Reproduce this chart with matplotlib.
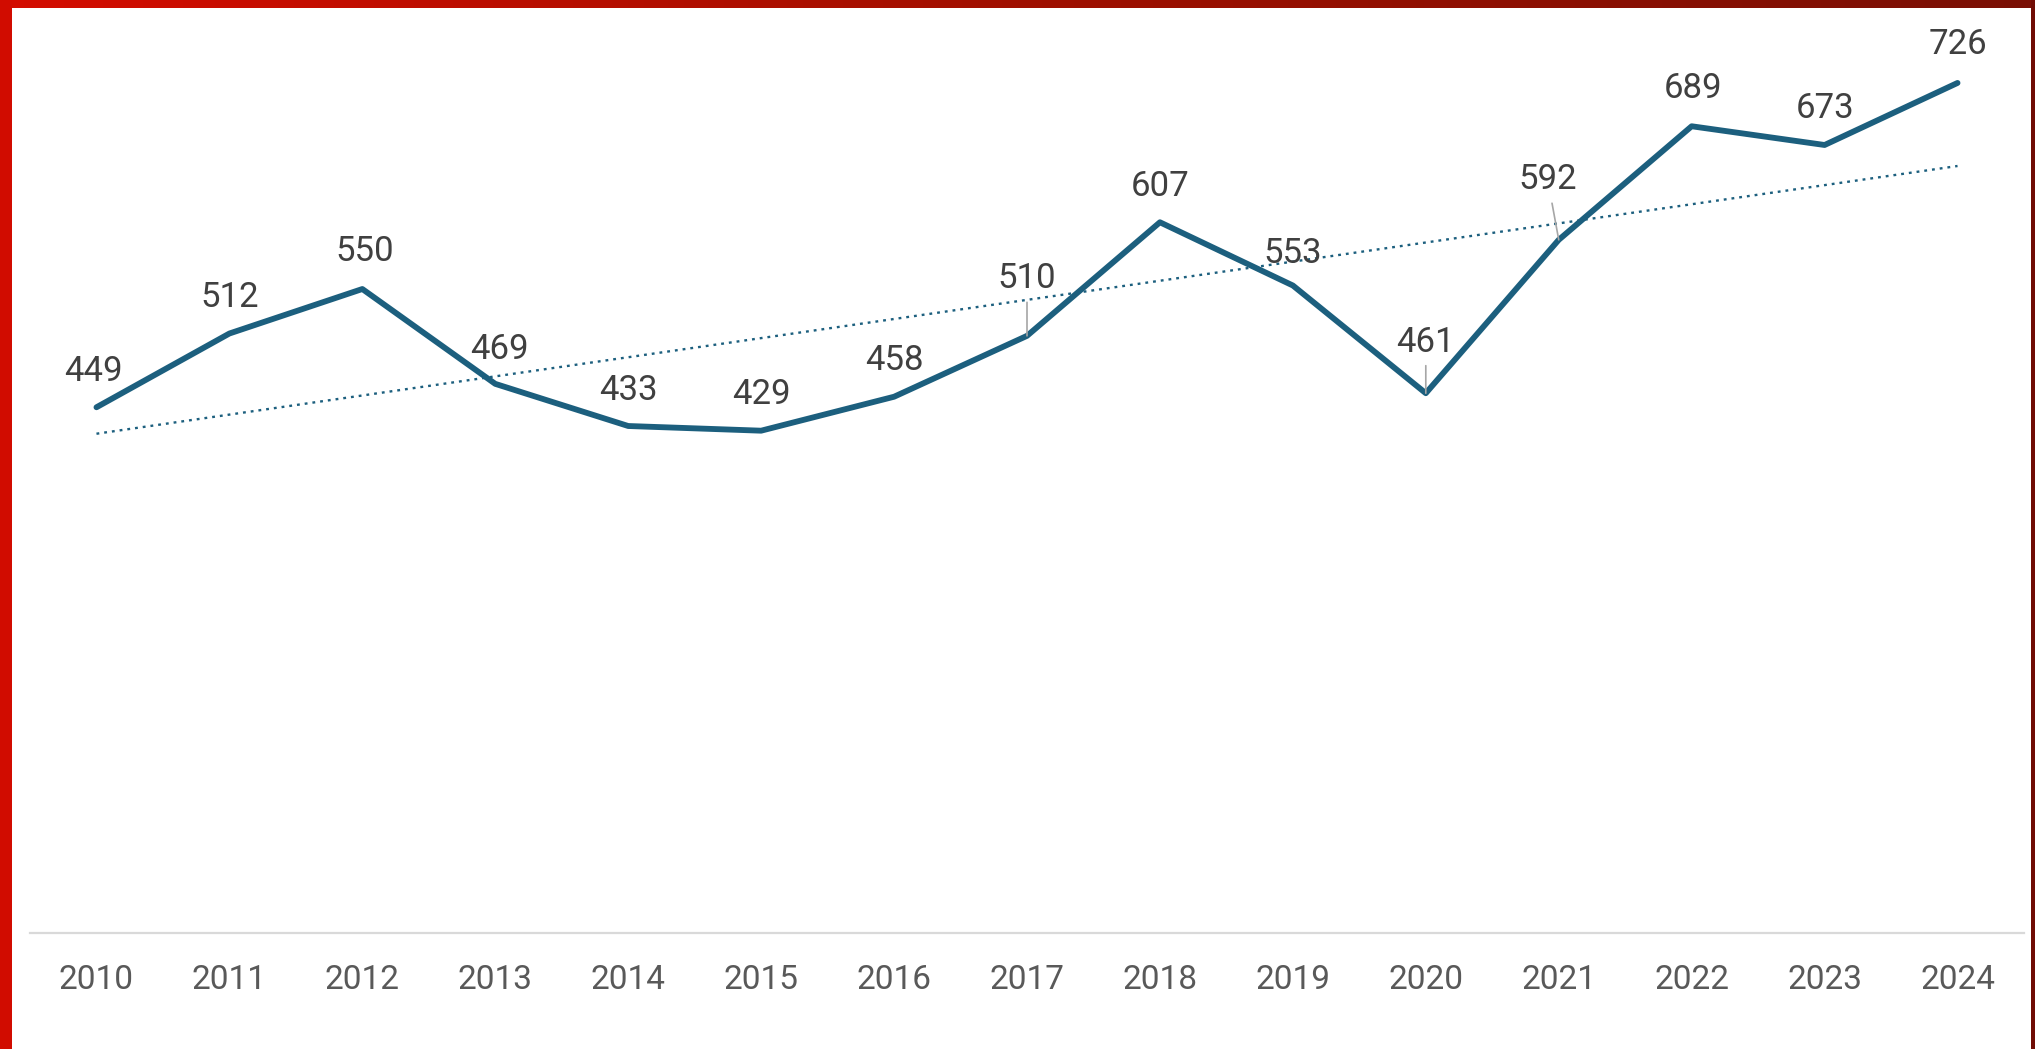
import numpy as np
import matplotlib
matplotlib.use("Agg")
import matplotlib.pyplot as plt
from matplotlib.patches import Rectangle
from matplotlib.colors import LinearSegmentedColormap

years = ["2010", "2011", "2012", "2013", "2014", "2015", "2016", "2017",
         "2018", "2019", "2020", "2021", "2022", "2023", "2024"]
values = [449, 512, 550, 469, 433, 429, 458, 510, 607, 553, 461, 592, 689, 673, 726]

plt.rcParams['font.family'] = ['Roboto', 'DejaVu Sans']

W, H = 2035, 1049
fig = plt.figure(figsize=(W / 100, H / 100), dpi=100)
fig.patch.set_facecolor('white')

ax = fig.add_axes([30 / W, (H - 933) / H, (2024 - 30) / W, (933 - 8) / H])
x = np.arange(len(years))

line_color = '#1c5f7e'
ax.plot(x, values, color=line_color, lw=4.2, solid_joinstyle='round',
        solid_capstyle='round', zorder=3)

# linear trendline
coef = np.polyfit(x, values, 1)
trend = np.polyval(coef, x)
ax.plot(x, trend, color=line_color, lw=1.7, linestyle=(0, (1.2, 2.1)), zorder=2)

# data labels
default_off = (0, 36)
label_offsets = {0: (-3, 36), 2: (2, 38), 3: (4, 34), 9: (0, 32), 12: (1, 38), 14: (0, 38)}
leader_offsets = {7: (0, 57), 10: (0, 51), 11: (-11, 60)}
for i, v in enumerate(values):
    if i in leader_offsets:
        off = leader_offsets[i]
        ax.annotate(str(v), xy=(i, v), xytext=off, textcoords='offset pixels',
                    ha='center', va='center', fontsize=25, color='#404040',
                    arrowprops=dict(arrowstyle='-', color='#a6a6a6', lw=1.2,
                                    shrinkA=3, shrinkB=0), zorder=4)
    else:
        off = label_offsets.get(i, default_off)
        ax.annotate(str(v), xy=(i, v), xytext=off, textcoords='offset pixels',
                    ha='center', va='center', fontsize=25, color='#404040', zorder=4)

ax.set_xlim(-0.5, len(years) - 0.5)
ax.set_ylim(0, 790)
ax.set_xticks(x)
ax.set_xticklabels(years, fontsize=24, color='#595959')
ax.tick_params(axis='x', length=0, pad=22)
ax.set_yticks([])
for s in ['top', 'right', 'left']:
    ax.spines[s].set_visible(False)
ax.spines['bottom'].set_color('#d9d9d9')
ax.spines['bottom'].set_linewidth(1.6)
ax.patch.set_alpha(0)

# red frame
cmap = LinearSegmentedColormap.from_list('frame', ['#d40c00', '#a01000', '#7a0f05'])
tax = fig.add_axes([0, (H - 8) / H, 1, 8 / H])
tax.imshow(np.linspace(0, 1, 256)[None, :], aspect='auto', cmap=cmap, extent=(0, 1, 0, 1))
tax.set_axis_off()
fig.patches.append(Rectangle((0, 0), 12 / W, 1, transform=fig.transFigure,
                             facecolor='#d10c00', edgecolor='none', zorder=10))
fig.patches.append(Rectangle((1 - 4 / W, 0), 4 / W, 1, transform=fig.transFigure,
                             facecolor='#700c05', edgecolor='none', zorder=10))

fig.savefig('out.png', dpi=100)
